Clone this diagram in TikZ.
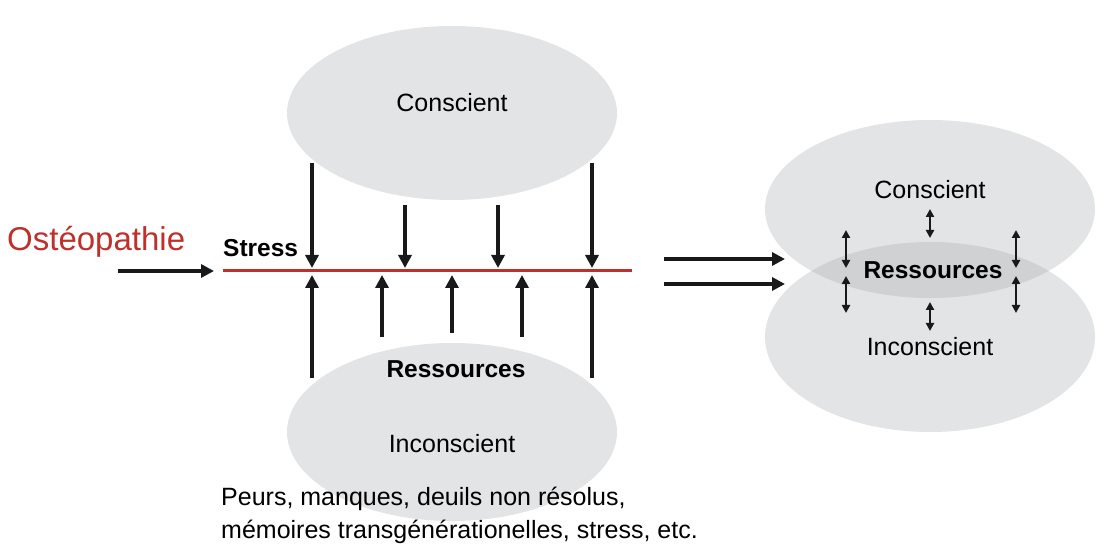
\documentclass[tikz,border=0pt]{standalone}
\usepackage{fontspec}
\setmainfont{Liberation Sans}
\usetikzlibrary{arrows.meta}
\definecolor{ellgray}{HTML}{E3E4E5}
\definecolor{ovgray}{HTML}{D0D1D3}
\definecolor{osred}{HTML}{C0302A}
\tikzset{
  ell/.style={fill=ellgray, draw=none},
  lab/.style={font=\fontsize{25}{29}\selectfont, inner sep=0pt},
  blab/.style={font=\fontsize{24.5}{29}\selectfont\bfseries, inner sep=0pt},
  arr/.style={line width=3.4pt, -{Triangle[length=13pt,width=13pt]}, black!90},
  darr/.style={line width=2.1pt, {Triangle[length=8pt,width=8pt]}-{Triangle[length=8pt,width=8pt]}, black!90},
}
\begin{document}
\begin{tikzpicture}[x=1pt,y=-1pt]
\useasboundingbox (0,0) rectangle (1111,553);
% left ellipses
\fill[ell] (452,113) ellipse [x radius=165, y radius=87];
\fill[ell] (452,432) ellipse [x radius=165, y radius=89];
% right ellipses
\fill[ell] (930,209) ellipse [x radius=165, y radius=89];
\fill[ell] (930,337) ellipse [x radius=165, y radius=95];
\begin{scope}
  \clip (930,209) ellipse [x radius=165, y radius=89];
  \fill[ovgray] (930,337) ellipse [x radius=165, y radius=95];
\end{scope}

% texts left
\node[lab] (cons) at (452,103) {Conscient};
\node[blab, anchor=west] (stress) at (223,248) {Stress};
\node[blab] (res) at (456,369) {Ressources};
\node[lab] (incons) at (452,444) {Inconscient};
\node[font=\fontsize{25}{33}\selectfont, inner sep=0pt, anchor=north west, align=left] (fears) at (221,487) {Peurs, manques, deuils non résolus,\\mémoires transgénérationelles, stress, etc.};
\node[font=\fontsize{33}{37}\selectfont, text=osred, inner sep=0pt, anchor=west] (osteo) at (7,242) {Ostéopathie};

% red line
\coordinate (rl) at (223,270.5);
\coordinate (rr) at (632,270.5);
\draw[osred, line width=3.8pt] (rl) -- (rr);

% osteo arrow
\coordinate (oa1) at (118,271);
\coordinate (oa2) at (214,271);
\draw[arr] (oa1) -- (oa2);

% down arrows
\foreach \x/\y in {312/163, 405/205, 498/205, 592/163}{
  \coordinate (d\x) at (\x,\y);
  \coordinate (de\x) at (\x,268);
  \draw[arr] (d\x) -- (de\x);
}
% up arrows
\foreach \x/\y in {312/378, 382/337, 452/333, 522/337, 592/378}{
  \coordinate (u\x) at (\x,\y);
  \coordinate (ue\x) at (\x,275);
  \draw[arr] (u\x) -- (ue\x);
}

% double arrows to right
\coordinate (a1s) at (664,259); \coordinate (a1e) at (785,259);
\coordinate (a2s) at (664,284); \coordinate (a2e) at (785,284);
\draw[arr] (a1s) -- (a1e);
\draw[arr] (a2s) -- (a2e);

% right texts
\node[lab] (rcons) at (930,190) {Conscient};
\node[blab] (rres) at (933,270) {Ressources};
\node[lab] (rincons) at (930,347) {Inconscient};

% small double arrows
\coordinate (s1a) at (930,209); \coordinate (s1b) at (930,238);
\coordinate (s2a) at (930,302); \coordinate (s2b) at (930,331);
\coordinate (l1a) at (846,230); \coordinate (l1b) at (846,268);
\coordinate (l2a) at (846,276); \coordinate (l2b) at (846,313);
\coordinate (r1a) at (1016,230); \coordinate (r1b) at (1016,268);
\coordinate (r2a) at (1016,276); \coordinate (r2b) at (1016,313);
\foreach \p in {s1,s2,l1,l2,r1,r2}{
  \draw[darr] (\p a) -- (\p b);
}
\end{tikzpicture}
\end{document}
